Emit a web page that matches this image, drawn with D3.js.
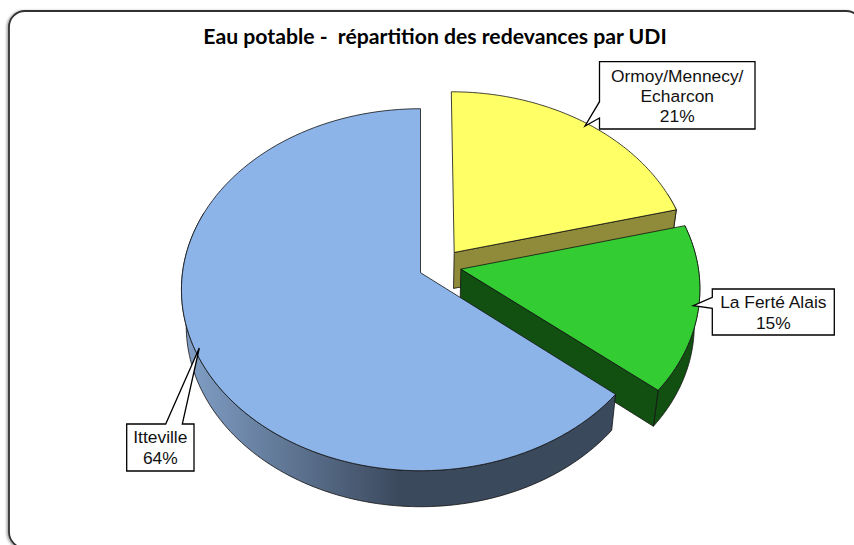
<!DOCTYPE html>
<html><head><meta charset="utf-8">
<script src="https://cdn.jsdelivr.net/npm/d3@7"></script>
<style>html,body{margin:0;padding:0;background:#fff;overflow:hidden}svg{display:block}
text{font-family:"Liberation Sans",Arial,sans-serif;fill:#000}</style></head>
<body><svg id="c" width="854" height="545"></svg>
<script>
const categories = ["Ormoy/Mennecy/ Echarcon", "La Ferté Alais", "Itteville"];
const values = [21, 15, 64];
const percentLabels = ["21%", "15%", "64%"];
const labelLines = [["Ormoy/Mennecy/", "Echarcon", "21%"], ["La Ferté Alais", "15%"], ["Itteville", "64%"]];
const titleText = "Eau potable -  répartition des redevances par UDI";

// layout
const W = 854, H = 545;
const cx = 420.5, cy = 272.7, a = 238, b = 179.4, k = -0.094;
const depth = 36, shrink = 0.98;
const explode = [[0.143, -0.114], [0.170, -0.020], [0, 0]];
const topColors = ["#ffff66", "#33cc33", "#8db4e8"];
const wallColors = ["#8f8b3a", "#125012", "url(#blueWall)"];
const boxes = [
  {x: 599.5, y: 61.7, w: 155.5, h: 67.3, base: [82, 102, 122], tip: [585, 126], p: [[599.5, 118], [599.5, 101.7]]},
  {x: 712.3, y: 289, w: 122, h: 46, base: [308, 329], tip: [693.3, 305.7], p: [[712.3, 297.3], [712.3, 308.3]]},
  {x: 126.7, y: 424, w: 67.3, h: 47, base: [443, 464], tip: [199.3, 348], p: [[165.7, 424], [182.3, 424]]}
];

const svg = d3.select("#c");
const defs = svg.append("defs");
const g = defs.append("linearGradient").attr("id", "blueWall").attr("gradientUnits", "userSpaceOnUse")
  .attr("x1", 190).attr("x2", 400).attr("y1", 0).attr("y2", 0);
g.append("stop").attr("offset", 0).attr("stop-color", "#7f9dc4");
g.append("stop").attr("offset", 1).attr("stop-color", "#3b495d");
const f = defs.append("filter").attr("id", "frameShadow").attr("x", "-2%").attr("y", "-2%").attr("width", "104%").attr("height", "104%");
f.append("feDropShadow").attr("dx", -1.5).attr("dy", 0.5).attr("stdDeviation", 1.2).attr("flood-color", "#000").attr("flood-opacity", 0.35);

svg.append("rect").attr("x", 9).attr("y", 11).attr("width", 853).attr("height", 537).attr("rx", 16)
  .attr("fill", "#fff").attr("stroke", "#333").attr("stroke-width", 1.8).attr("filter", "url(#frameShadow)");

svg.append("text").attr("x", 435).attr("y", 44).attr("text-anchor", "middle").attr("xml:space", "preserve")
  .style("font-family", "Lato, sans-serif").style("font-weight", 700).style("font-size", "21.2px").style("white-space", "pre").text(titleText);

const xScale = d3.scaleLinear().domain([-1, 1]).range([-a, a]);
const yScale = d3.scaleLinear().domain([-1, 1]).range([-b, b]);
function project(X, Y) {
  const d = 1 + k * Y;
  return [cx + xScale(X) / d, cy + yScale(Y) / d];
}
const lower = p => [cx + (p[0] - cx) * shrink, p[1] + depth];
const line = d3.line();
const arcs = d3.pie().sort(null).startAngle(0).endAngle(2 * Math.PI)(values);

function ptsOnArc(i, t0, t1) {
  const e = explode[i];
  return d3.range(0, 121).map(n => {
    const t = t0 + (t1 - t0) * n / 120;
    return project(e[0] + Math.sin(t), e[1] - Math.cos(t));
  });
}
const layer = svg.append("g").attr("stroke", "#111").attr("stroke-width", 0.8).attr("stroke-linejoin", "round");
arcs.forEach((d, i) => {
  const e = explode[i];
  const apex = project(e[0], e[1]);
  const rim = ptsOnArc(i, d.startAngle, d.endAngle);
  // outer wall: visible part only (front half of the rim)
  const t0 = Math.max(d.startAngle, Math.PI / 2 - 0.35), t1 = Math.min(d.endAngle, 3 * Math.PI / 2 + 0.35);
  if (t1 > t0) {
    const front = ptsOnArc(i, t0, t1);
    layer.append("path").attr("d", line(front.concat(front.map(lower).reverse())) + "Z").attr("fill", wallColors[i]);
  }
  // radial wall at the end of the slice, when it faces the viewer
  if (d.endAngle < Math.PI) {
    const end = rim[rim.length - 1];
    layer.append("path").attr("d", line([apex, end, lower(end), lower(apex)]) + "Z").attr("fill", wallColors[i]);
  }
  layer.append("path").attr("d", line([apex, ...rim]) + "Z").attr("fill", topColors[i]);
});

const labels = svg.append("g");
boxes.forEach((bx, i) => {
  const pts = [[bx.x, bx.y], [bx.x + bx.w, bx.y], [bx.x + bx.w, bx.y + bx.h], [bx.x, bx.y + bx.h]];
  let outline;
  if (i === 0) outline = [pts[0], pts[1], pts[2], pts[3], bx.p[0], bx.tip, bx.p[1]];
  if (i === 1) outline = [pts[0], pts[1], pts[2], pts[3], bx.p[1], bx.tip, bx.p[0]];
  if (i === 2) outline = [pts[0], bx.p[0], bx.tip, bx.p[1], pts[1], pts[2], pts[3]];
  labels.append("path").attr("d", line(outline) + "Z").attr("fill", "#fff").attr("stroke", "#000").attr("stroke-width", 1.3);
  labelLines[i].forEach((t, j) => {
    labels.append("text").attr("x", bx.x + bx.w / 2).attr("y", bx.base[j]).attr("text-anchor", "middle")
      .style("font-size", "17.4px").style("fill", "#111").text(t);
  });
});
</script></body></html>
